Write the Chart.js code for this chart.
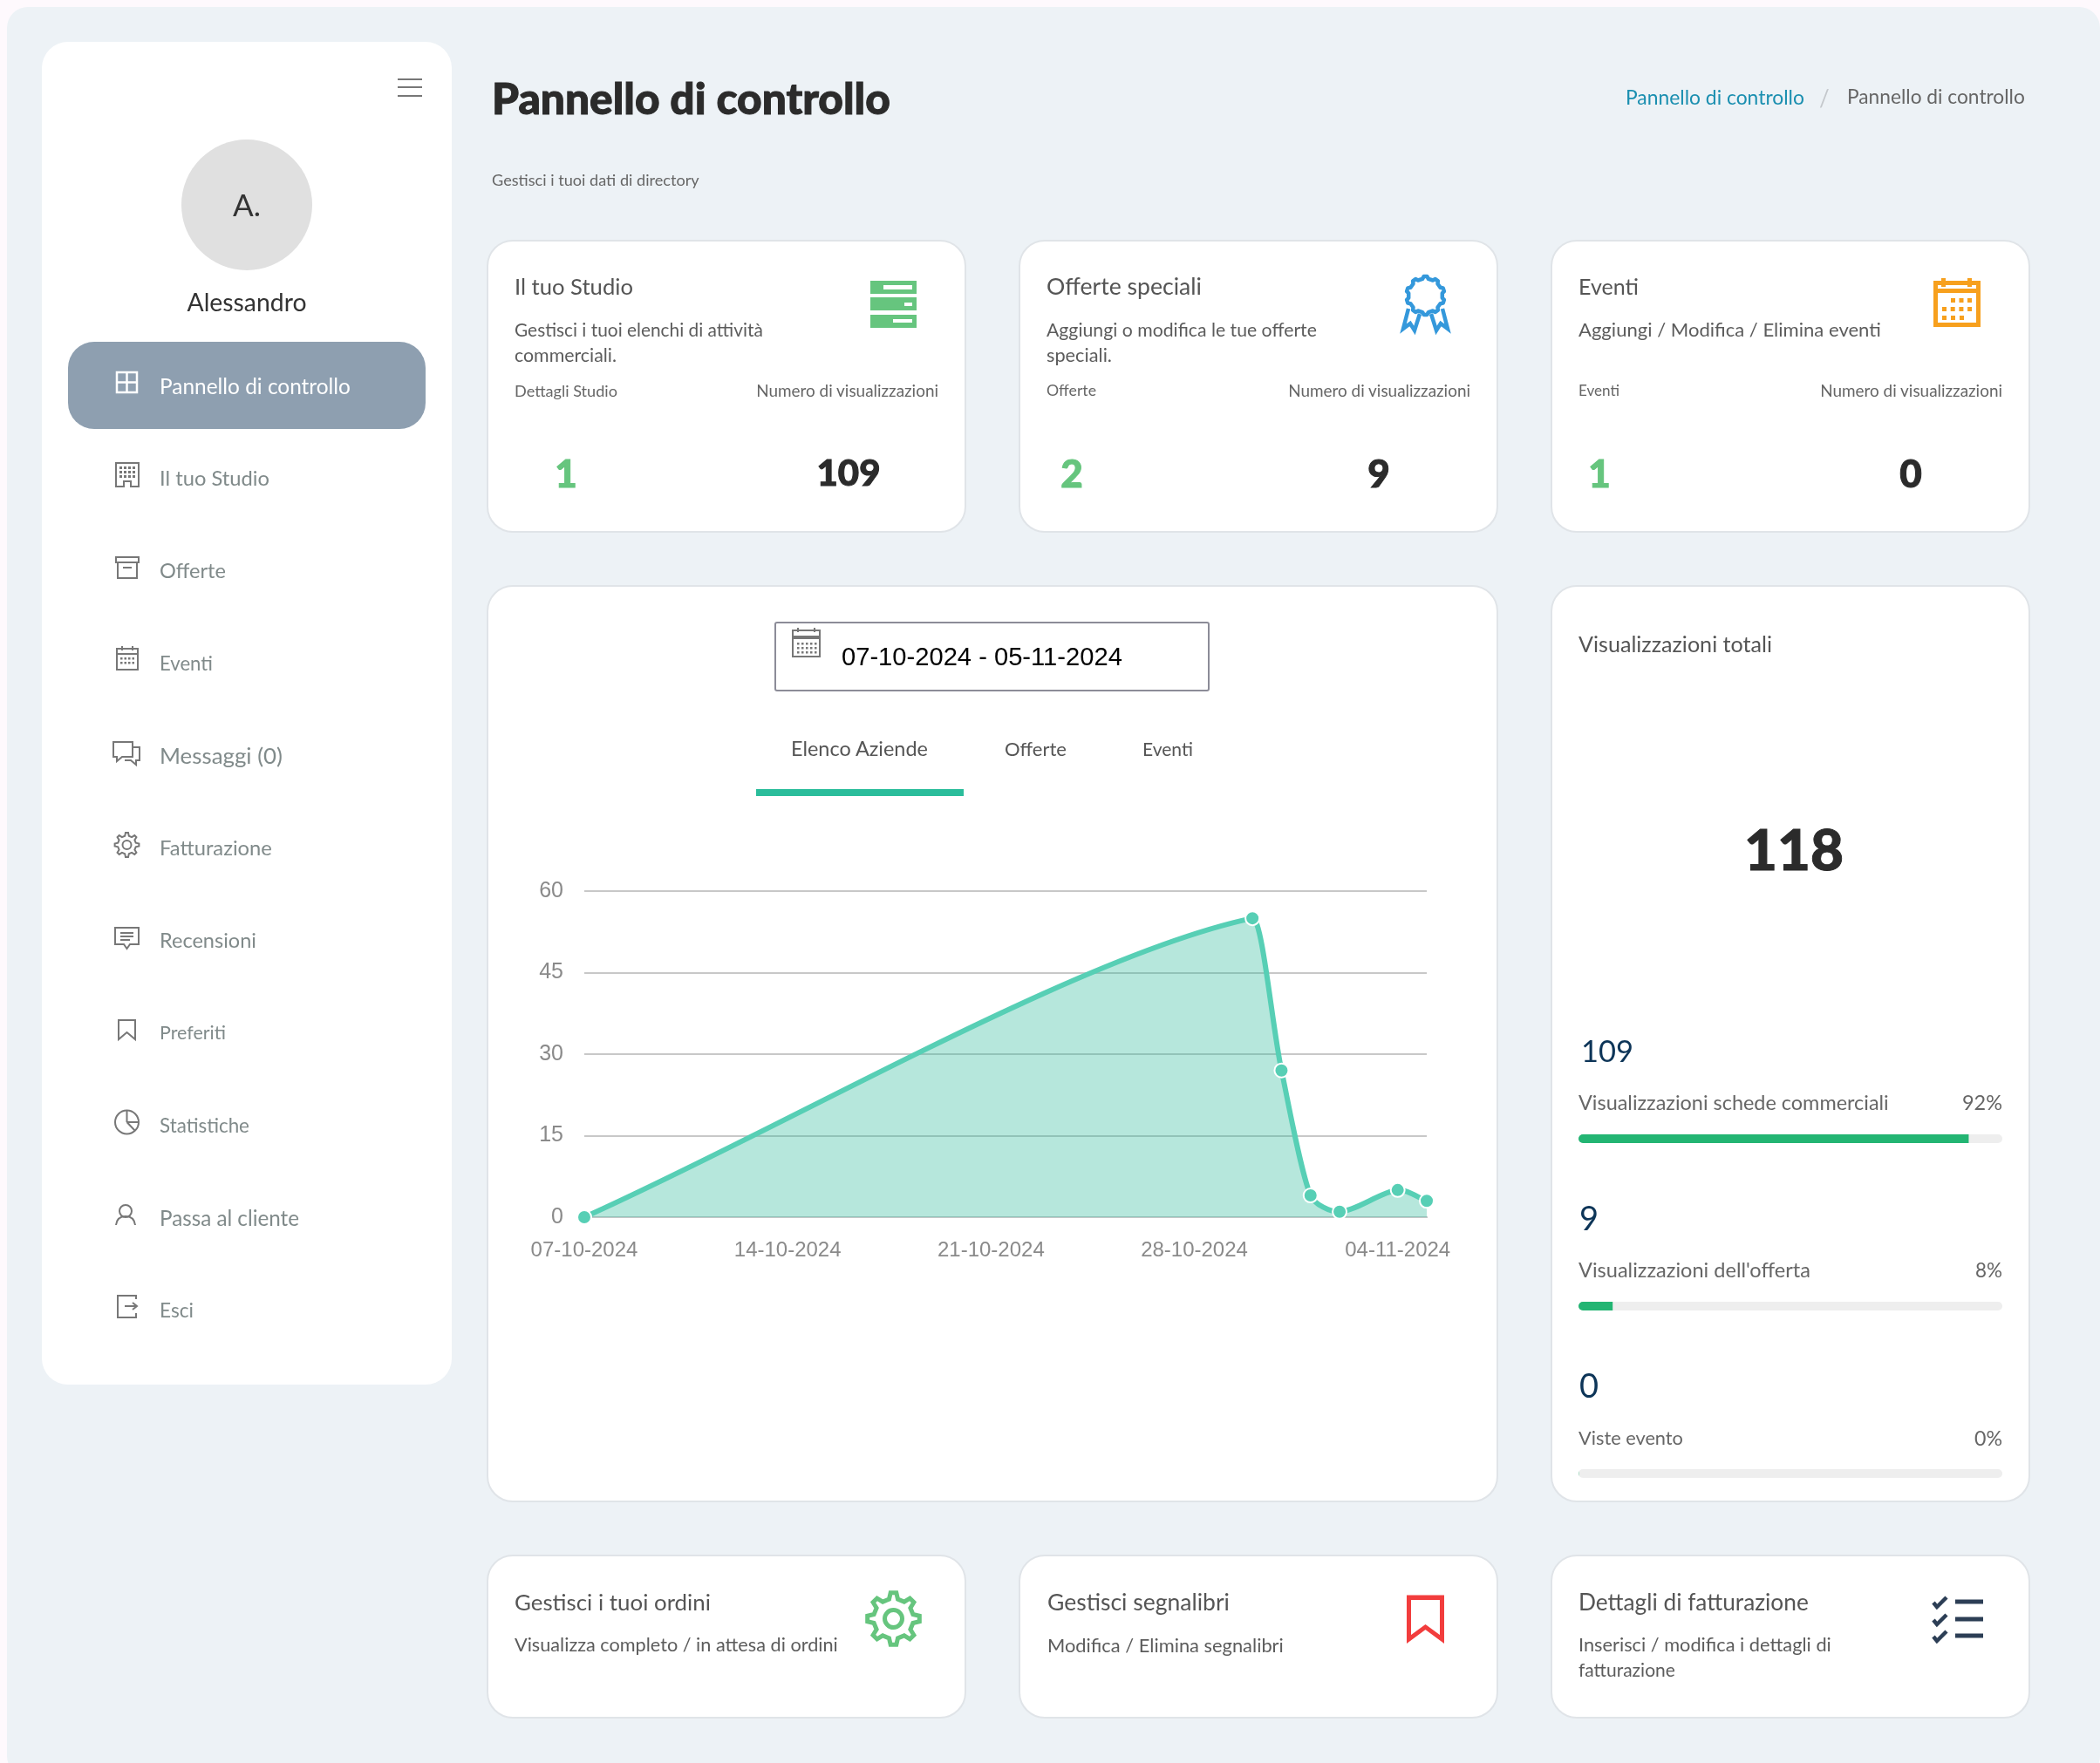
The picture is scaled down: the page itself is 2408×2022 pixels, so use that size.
<!DOCTYPE html>
<html lang="it">
<head>
<meta charset="utf-8">
<title>Pannello di controllo</title>
<script src="https://cdn.jsdelivr.net/npm/chart.js@4"></script>
<style>
html, body { margin: 0; padding: 0; background: #fef9fd; }
body { position: relative; width: 2408px; height: 2022px; overflow: hidden; font-family: Lato, sans-serif; }
.box { position: absolute; box-sizing: border-box; background: #fff; }
.card { border: 2px solid #e0e4e8; border-radius: 30px; }
.t { position: absolute; white-space: nowrap; line-height: 1; }
svg.layer { position: absolute; left: 0; top: 0; width: 2408px; height: 2022px; pointer-events: none; }
canvas { position: absolute; }
.track { background: #eeeeee; border-radius: 5px; }
</style>
</head>
<body>
<div class="box" style="left:8px;top:8px;width:2400px;height:2030px;background:#edf2f6;border-radius:24px"></div>
<div class="box" style="left:48px;top:48px;width:470px;height:1540px;border-radius:30px"></div>
<div class="box" style="left:78px;top:392px;width:410px;height:100px;border-radius:30px;background:#8e9fb0"></div>
<div class="box" style="left:208px;top:160px;width:150px;height:150px;border-radius:50%;background:#e0e0e0"></div>
<div class="box card" style="left:558px;top:275px;width:550px;height:336px"></div>
<div class="box card" style="left:1168px;top:275px;width:550px;height:336px"></div>
<div class="box card" style="left:1778px;top:275px;width:550px;height:336px"></div>
<div class="box card" style="left:558px;top:671px;width:1160px;height:1052px"></div>
<div class="box card" style="left:1778px;top:671px;width:550px;height:1052px"></div>
<div class="box card" style="left:558px;top:1783px;width:550px;height:188px"></div>
<div class="box card" style="left:1168px;top:1783px;width:550px;height:188px"></div>
<div class="box card" style="left:1778px;top:1783px;width:550px;height:188px"></div>
<div class="box" style="left:888px;top:713px;width:499px;height:80px;border:2px solid #8c8c98;border-radius:3px"></div>
<div class="box" style="left:867px;top:905px;width:238px;height:8px;background:#2bbd9b"></div>

<canvas id="viewsChart" width="1100" height="497" style="left:590px;top:983px"></canvas>
<canvas id="progress0" class="track" width="486" height="10" style="left:1810px;top:1301px"></canvas>
<canvas id="progress1" class="track" width="486" height="10" style="left:1810px;top:1493px"></canvas>
<canvas id="progress2" class="track" width="486" height="10" style="left:1810px;top:1685px"></canvas>

<svg class="layer" id="icons" xmlns="http://www.w3.org/2000/svg"></svg>

<script>
// chart data
const categories = [
    '07-10-2024', '08-10-2024', '09-10-2024', '10-10-2024', '11-10-2024', '12-10-2024',
    '13-10-2024', '14-10-2024', '15-10-2024', '16-10-2024', '17-10-2024', '18-10-2024',
    '19-10-2024', '20-10-2024', '21-10-2024', '22-10-2024', '23-10-2024', '24-10-2024',
    '25-10-2024', '26-10-2024', '27-10-2024', '28-10-2024', '29-10-2024', '30-10-2024',
    '31-10-2024', '01-11-2024', '02-11-2024', '03-11-2024', '04-11-2024', '05-11-2024'
];
const viewCounts = [
    0, null, null, null, null, null,
    null, null, null, null, null, null,
    null, null, null, null, null, null,
    null, null, null, null, null, 55,
    27, 4, 1, null, 5, 3
];
const xTickLabels = ['07-10-2024', '14-10-2024', '21-10-2024', '28-10-2024', '04-11-2024'];
const yMax = 60;
const yStep = 15;
const progressPercents = [92, 8, 0];

const menuLabels = ['Il tuo Studio', 'Offerte', 'Eventi', 'Messaggi (0)', 'Fatturazione', 'Recensioni', 'Preferiti', 'Statistiche', 'Passa al cliente', 'Esci'];
const menuWidths = [126, 76, 61, 141, 129, 111, 76, 103, 160, 39];

// text helper: a width makes the font size follow the width measured in the picture
function label(text, x, y, width, opts) {
    opts = opts || {};
    const el = document.createElement('div');
    el.className = 't';
    el.textContent = text;
    el.style.color = opts.color || '#666';
    el.style.fontWeight = opts.weight || 400;
    el.style.fontFamily = opts.font || 'Lato, sans-serif';
    el.style.fontSize = (opts.size || 100) + 'px';
    if (opts.weight === 900) el.style.webkitTextStroke = '1px ' + opts.color;
    document.body.appendChild(el);
    if (width) {
        el.style.fontSize = (100 * width / el.getBoundingClientRect().width) + 'px';
    }
    const w = el.getBoundingClientRect().width;
    const h = el.getBoundingClientRect().height;
    const align = opts.align || 'l';
    el.style.left = (align === 'l' ? x : align === 'r' ? x - w : x - w / 2) + 'px';
    el.style.top = (y - h / 2) + 'px';
}

const dark = '#2b2b2b';
const green = '#66c57e';
const navy = '#0d3558';
const grey = '#808a8a';
const body = '#5c5c5c';

label('Pannello di controllo', 564, 113, 457, { color: dark, weight: 900 });
label('Pannello di controllo', 1864, 111, 205, { color: '#1b8fb0' });
label('/', 2092, 112, null, { color: '#c4c8cc', size: 26, align: 'c' });
label('Pannello di controllo', 2118, 111, 204, { color: '#666' });
label('Gestisci i tuoi dati di directory', 564, 206, 238, { color: '#666' });

// sidebar
label('A.', 283, 235, 32, { color: '#333', align: 'c' });
label('Alessandro', 283, 346, 137, { color: '#333', align: 'c' });
label('Pannello di controllo', 183, 443, 219, { color: '#fff' });
menuLabels.forEach((text, i) => label(text, 183, 549 + i * 106, menuWidths[i], { color: grey }));

// top cards
label('Il tuo Studio', 590, 328.5, 136, { color: '#555' });
label('Gestisci i tuoi elenchi di attività', 590, 378.5, 285, { color: body });
label('commerciali.', 590, 407.5, 117, { color: body });
label('Dettagli Studio', 590, 448, 118);
label('Numero di visualizzazioni', 1076, 448, 209, { align: 'r' });
label('1', 649, 541.5, null, { color: green, weight: 900, size: 44, align: 'c' });
label('109', 973, 541.5, 73, { color: dark, weight: 900, align: 'c' });

label('Offerte speciali', 1200, 328.5, 178, { color: '#555' });
label('Aggiungi o modifica le tue offerte', 1200, 378.5, 310, { color: body });
label('speciali.', 1200, 407.5, 75, { color: body });
label('Offerte', 1200, 448, 57);
label('Numero di visualizzazioni', 1686, 448, 209, { align: 'r' });
label('2', 1229, 541.5, null, { color: green, weight: 900, size: 44, align: 'c' });
label('9', 1581, 541.5, null, { color: dark, weight: 900, size: 44, align: 'c' });

label('Eventi', 1810, 328.5, 69, { color: '#555' });
label('Aggiungi / Modifica / Elimina eventi', 1810, 378.5, 347, { color: body });
label('Eventi', 1810, 448, 47);
label('Numero di visualizzazioni', 2296, 448, 209, { align: 'r' });
label('1', 1834, 541.5, null, { color: green, weight: 900, size: 44, align: 'c' });
label('0', 2191, 541.5, null, { color: dark, weight: 900, size: 44, align: 'c' });

// chart card head
label('07-10-2024 - 05-11-2024', 965, 754, 322, { color: '#000', font: '"Liberation Sans", sans-serif' });
label('Elenco Aziende', 907, 859, 157, { color: '#555' });
label('Offerte', 1152, 859, 71, { color: '#555' });
label('Eventi', 1310, 859, 58, { color: '#555' });

// totals card
label('Visualizzazioni totali', 1810, 739, 222, { color: '#555' });
label('118', 2057, 973, 114, { color: dark, weight: 900, align: 'c' });
label('109', 1813, 1205, 60, { color: navy });
label('Visualizzazioni schede commerciali', 1810, 1265, 356);
label('92%', 2296, 1265, 46, { align: 'r' });
label('9', 1811, 1396, null, { color: navy, size: 38 });
label("Visualizzazioni dell'offerta", 1810, 1457, 266);
label('8%', 2296, 1457, 31, { align: 'r' });
label('0', 1811, 1588, null, { color: navy, size: 38 });
label('Viste evento', 1810, 1649.5, 120);
label('0%', 2296, 1649.5, 32, { align: 'r' });

// bottom cards
label('Gestisci i tuoi ordini', 590, 1837.5, 225, { color: '#555' });
label('Visualizza completo / in attesa di ordini', 590, 1887, 371, { color: body });
label('Gestisci segnalibri', 1201, 1837.5, 209, { color: '#555' });
label('Modifica / Elimina segnalibri', 1201, 1887, 271, { color: body });
label('Dettagli di fatturazione', 1810, 1837.5, 264, { color: '#555' });
label('Inserisci / modifica i dettagli di', 1810, 1887, 290, { color: body });
label('fatturazione', 1810, 1915, 111, { color: body });

// icons
function gearPath(cx, cy, outer, inner, teeth) {
    let d = '';
    for (let i = 0; i < teeth; i++) {
        const a = i * 2 * Math.PI / teeth;
        const step = 2 * Math.PI / teeth;
        [[-0.28, inner], [-0.14, outer], [0.14, outer], [0.28, inner]].forEach((p, j) => {
            const ang = a + p[0] * step;
            d += (i === 0 && j === 0 ? 'M' : 'L') + (cx + p[1] * Math.sin(ang)).toFixed(1) + ' ' + (cy - p[1] * Math.cos(ang)).toFixed(1) + ' ';
        });
    }
    return d + 'Z';
}
function dots(x, y, cols, rows, gapX, gapY, size, color) {
    let s = '';
    for (let r = 0; r < rows; r++) {
        for (let c = 0; c < cols; c++) {
            s += `<rect x="${x + c * gapX}" y="${y + r * gapY}" width="${size}" height="${size}" fill="${color}"/>`;
        }
    }
    return s;
}
const ic = '#777';
const orange = '#f7a01d';
const line = `fill="none" stroke="${ic}" stroke-width="2"`;
document.getElementById('icons').innerHTML = `
<path d="M456 91H484M456 100H484M456 110H484" fill="none" stroke="#777" stroke-width="2"/>
<path d="M134 427H157V450H134ZM145.5 427V450M134 438.5H157" fill="none" stroke="#fff" stroke-width="2.5"/>
<path d="M133 531H159V558H150V552H142V558H133Z" ${line}/>${dots(137, 535, 4, 3, 5, 5, 3, ic)}
<path d="M133 639H159V645H133ZM135 645V663H157V645M141 651H151" ${line}/>
<rect x="134" y="744" width="24" height="24" ${line}/><path d="M134 750H158M140 741V746M152 741V746" ${line}/>${dots(138, 754, 4, 2, 4.5, 5, 2.5, ic)}
<path d="M130 851H152V868H140L134 873V868H130ZM153 857H160V872H156V877L150 872H143" ${line}/>
<path d="${gearPath(145.5, 969, 14, 10.5, 8)}" ${line}/><circle cx="145.5" cy="969" r="5" ${line}/>
<path d="M132 1064H159V1083H149L145.5 1088L142 1083H132ZM138 1070H153M138 1074H153M138 1078H149" ${line}/>
<path d="M136 1170H155V1192L145.5 1184L136 1192Z" ${line}/>
<circle cx="145.5" cy="1287" r="13.5" ${line}/><path d="M145.5 1287V1273.5M145.5 1287H159M145.5 1287L155 1297" ${line}/>
<circle cx="144" cy="1389" r="7" ${line}/><path d="M133 1405C134 1397 139 1395 144 1395C149 1395 154 1397 155 1405" ${line}/>
<path d="M156 1490V1486H135V1511H156V1506M143 1498H156M152 1494L157 1498L152 1502" ${line}/>

<path d="M998 322H1051V337H998ZM998 341H1051V356H998ZM998 361H1051V376H998Z" fill="${green}"/>
<path d="M1013 327H1046V332H1013ZM1037 347H1046V351H1037ZM1024 366H1046V370H1024Z" fill="#fff"/>
<path d="${gearPath(1634.5, 339, 22, 19.5, 10)}" fill="none" stroke="#3498db" stroke-width="4.5" stroke-linejoin="round"/>
<path d="M1615 354L1609 377L1617 371L1622 379L1628 360M1654 354L1660 377L1652 371L1647 379L1641 360" fill="none" stroke="#3498db" stroke-width="4.5"/>
<rect x="2219.5" y="324.5" width="49" height="48" fill="none" stroke="${orange}" stroke-width="5"/>
<path d="M2217 333.5H2271" stroke="${orange}" stroke-width="5"/><path d="M2228.5 319V329M2258.5 319V329" stroke="${orange}" stroke-width="5"/>
${dots(2237, 342, 3, 1, 9.5, 10, 5, orange)}${dots(2227, 352, 4, 1, 9.7, 10, 5, orange)}${dots(2227, 362, 3, 1, 10, 10, 5, orange)}

<path d="${gearPath(1024.5, 1856.5, 30, 23, 8)}" fill="none" stroke="${green}" stroke-width="5"/>
<circle cx="1024.5" cy="1856.5" r="10" fill="none" stroke="${green}" stroke-width="5"/>
<path d="M1615.5 1832H1653.5V1880L1634.5 1866L1615.5 1880Z" fill="none" stroke="#f23d3d" stroke-width="5"/>
<path d="M1613 1830H1656V1835H1613Z" fill="#f23d3d"/>
<path d="M2242 1837H2274M2242 1857H2274M2242 1876H2274" stroke="#2c3e55" stroke-width="5"/>
<path d="M2217 1838L2221 1843L2232 1832M2217 1858L2221 1863L2232 1852M2217 1877L2221 1882L2232 1871" fill="none" stroke="#2c3e55" stroke-width="4.5"/>

<rect x="909" y="723" width="31" height="30" fill="none" stroke="${ic}" stroke-width="2"/><path d="M909 731H940" stroke="${ic}" stroke-width="4"/><path d="M915 720V725M934 720V725" stroke="${ic}" stroke-width="2"/>
${dots(914, 737, 5, 3, 5, 5, 2.5, ic)}
`;

// keeps the spline from bulging sideways past the next point on the steep drop
const limitControlPoints = {
    id: 'limitControlPoints',
    afterDatasetsUpdate(chart) {
        const meta = chart.getDatasetMeta(0);
        meta.dataset.updateControlPoints(chart.chartArea, 'x');
        const pts = meta.data.filter(p => !p.skip);
        for (let i = 0; i < pts.length - 1; i++) {
            const a = pts[i];
            const b = pts[i + 1];
            const maxDx = (b.x - a.x) / 3;
            const outDx = a.cp2x - a.x;
            if (outDx > maxDx) {
                a.cp2y = a.y + (a.cp2y - a.y) * maxDx / outDx;
                a.cp2x = a.x + maxDx;
            }
            const inDx = b.x - b.cp1x;
            if (inDx > maxDx) {
                b.cp1y = b.y + (b.cp1y - b.y) * maxDx / inDx;
                b.cp1x = b.x - maxDx;
            }
        }
    }
};

// line chart
const ctx = document.getElementById('viewsChart').getContext('2d');
new Chart(ctx, {
    type: 'line',
    data: {
        labels: categories,
        datasets: [{
            data: viewCounts,
            spanGaps: true,
            clip: false,
            fill: 'origin',
            tension: 0.3,
            borderColor: '#57cfb5',
            borderWidth: 6,
            backgroundColor: 'rgba(46, 187, 155, 0.35)',
            pointRadius: 8,
            pointBorderWidth: 2,
            pointBackgroundColor: '#57cfb5',
            pointBorderColor: '#fff'
        }]
    },
    options: {
        responsive: false,
        animation: false,
        layout: { padding: { top: 4, right: 54, bottom: 0, left: 0 } },
        plugins: {
            legend: { display: false },
            tooltip: { enabled: false }
        },
        scales: {
            x: {
                afterFit: scale => { scale.height = 84; },
                grid: { display: false },
                border: { color: '#c4c8c8', width: 2 },
                ticks: {
                    autoSkip: false,
                    maxRotation: 0,
                    padding: 16,
                    color: '#8a8a8a',
                    font: { family: '"Liberation Sans", sans-serif', size: 24 },
                    callback: function (value) {
                        const text = this.getLabelForValue(value);
                        return xTickLabels.includes(text) ? text : '';
                    }
                }
            },
            y: {
                min: 0,
                max: yMax,
                afterFit: scale => { scale.width = 80; },
                border: { display: false },
                grid: { color: '#c8c8c8', lineWidth: 2, drawTicks: false },
                ticks: {
                    stepSize: yStep,
                    padding: 24,
                    color: '#8a8a8a',
                    font: { family: '"Liberation Sans", sans-serif', size: 25 }
                }
            }
        }
    },
    plugins: [limitControlPoints]
});

// progress bars of the totals card
progressPercents.forEach((percent, i) => {
    new Chart(document.getElementById('progress' + i).getContext('2d'), {
        type: 'bar',
        data: {
            labels: ['views'],
            datasets: [{
                data: [percent],
                backgroundColor: '#23b573',
                barThickness: 10,
                borderSkipped: false,
                borderRadius: { topLeft: 5, bottomLeft: 5, topRight: 0, bottomRight: 0 }
            }]
        },
        options: {
            indexAxis: 'y',
            responsive: false,
            animation: false,
            plugins: { legend: { display: false }, tooltip: { enabled: false } },
            scales: {
                x: { display: false, min: 0, max: 100 },
                y: { display: false }
            }
        }
    });
});
</script>
</body>
</html>
